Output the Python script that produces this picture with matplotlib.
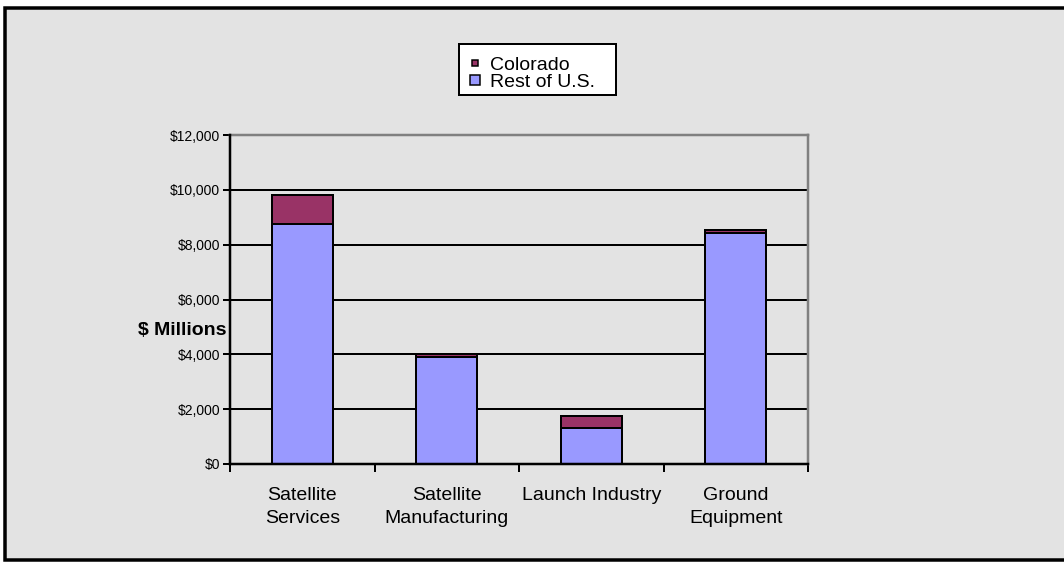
import matplotlib
matplotlib.use("Agg")
import matplotlib.pyplot as plt
from matplotlib.patches import Rectangle
from matplotlib.lines import Line2D
from matplotlib.ticker import FuncFormatter, FixedLocator
import numpy as np

plt.rcParams['font.family'] = ['Liberation Sans', 'DejaVu Sans']

categories = ["Satellite\nServices", "Satellite\nManufacturing", "Launch Industry", "Ground\nEquipment"]
rest_of_us = [8760, 3920, 1310, 8420]
colorado = [1040, 80, 450, 130]
series_names = ["Colorado", "Rest of U.S."]

BLUE = "#9999FF"
MAROON = "#993366"
BG = "#E3E3E3"
PX = 72 / 100  # points per pixel at dpi 100
W, H = 1064, 562

fig = plt.figure(figsize=(W / 100, H / 100), dpi=100, facecolor="white")

# Framed grey panel behind the chart
frame = Rectangle((4.5 / W, 1 - 560 / H), 1.2, (560 - 8) / H,
                  transform=fig.transFigure, facecolor=BG, edgecolor="black",
                  linewidth=3.5 * PX, zorder=-10)
fig.patches.append(frame)

ax = fig.add_axes([230 / W, 1 - 464 / H, (808 - 230) / W, (464 - 135) / H])
ax.set_facecolor(BG)
ax.set_zorder(1)

x = np.arange(len(categories))
width = 0.42
ax.bar(x, rest_of_us, width, color=BLUE, edgecolor="black", linewidth=2 * PX, zorder=3)
ax.bar(x, colorado, width, bottom=rest_of_us, color=MAROON, edgecolor="black",
       linewidth=2 * PX, zorder=3)

ax.set_xlim(-0.5, len(categories) - 0.5)
ax.set_ylim(0, 12000)
ax.set_yticks(np.arange(0, 12001, 2000))
ax.yaxis.set_major_formatter(FuncFormatter(lambda v, p: "\\${:,.0f}".format(v)))
ax.tick_params(axis="y", labelsize=10, length=5, width=2 * PX, pad=2, direction="out")

ax.set_xticks(x)
ax.set_xticklabels(categories, fontsize=14, linespacing=1.45)
ax.tick_params(axis="x", which="major", length=0, pad=16.5)
ax.xaxis.set_minor_locator(FixedLocator(np.arange(-0.5, len(categories), 1.0)))
ax.tick_params(axis="x", which="minor", length=6, width=2 * PX, direction="out")

for v in range(2000, 12000, 2000):
    ax.axhline(v, color="black", linewidth=2 * PX, zorder=1)

for side in ("top", "right"):
    ax.spines[side].set_color("#808080")
    ax.spines[side].set_linewidth(2.5 * PX)
for side in ("left", "bottom"):
    ax.spines[side].set_color("black")
    ax.spines[side].set_linewidth(2.5 * PX)
    ax.spines[side].set_zorder(4)

ax.set_ylabel("\\$ Millions", rotation=0, fontsize=14, fontweight="bold",
              ha="right", va="center")
ax.yaxis.set_label_coords(-0.006, 0.405)

# Legend: white box with black border, entries laid out inside it
legend_box = Rectangle((459 / W, 1 - 95 / H), (616 - 459) / W, (95 - 44) / H,
                       transform=fig.transFigure, facecolor="white", edgecolor="black",
                       linewidth=2 * PX, zorder=2)
fig.patches.append(legend_box)

handles = [
    Line2D([], [], marker="s", linestyle="none", markersize=4.5,
           markerfacecolor=MAROON, markeredgecolor="black", markeredgewidth=1.5 * PX),
    Line2D([], [], marker="s", linestyle="none", markersize=7,
           markerfacecolor=BLUE, markeredgecolor="black", markeredgewidth=1.5 * PX),
]
leg = fig.legend(handles, series_names, loc="upper left",
                 bbox_to_anchor=(470 / W, 1 - 56 / H), fontsize=14,
                 frameon=False, handlelength=0.5, handletextpad=0.55,
                 labelspacing=0.0, borderpad=0, borderaxespad=0)
leg.set_zorder(3)

fig.savefig("out.png", dpi=100, facecolor="white")
